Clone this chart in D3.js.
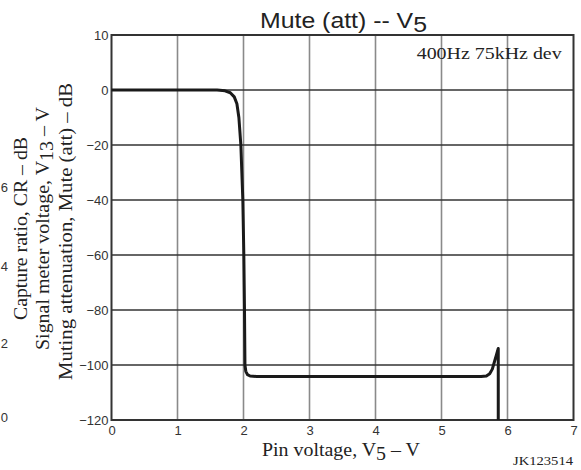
<!DOCTYPE html>
<html><head><meta charset="utf-8">
<script src="https://cdn.jsdelivr.net/npm/d3@7"></script>
<style>body{margin:0;background:#fff}svg{display:block}</style>
</head><body>
<script>
const xTicks = [0,1,2,3,4,5,6,7];
const yTicks = [10,0,-20,-40,-60,-80,-100,-120];
const cutTicks = ["6","4","2","0"];
const cutTickY = [-35.6,-64.2,-92.2,-118.9];
const curveV  = [0,1.6,1.72,1.8,1.86,1.9,1.93,1.96,1.99,2.005,2.015,2.022,2.035,2.06,2.1,2.2,3,4,5,5.6,5.68,5.73,5.77,5.8,5.83,5.86,5.86];
const curveDb = [0,0,-0.3,-1,-2.5,-5,-10,-20,-40,-60,-80,-100,-102.3,-103.5,-104,-104.2,-104.2,-104.2,-104.2,-104.2,-104,-103.2,-101.5,-99,-96.5,-94,-120];

const W=581,H=470;
const SANS="Liberation Sans, Arial, sans-serif", SERIF="Liberation Serif, Times New Roman, serif";
const svg=d3.select("body").append("svg").attr("width",W).attr("height",H);
const x=d3.scaleLinear().domain([0,7]).range([111.5,573.5]);
// top interval (0..10) is drawn as tall as the 20 dB intervals, as in the original
const y=d3.scaleLinear().domain([-120,0,10]).range([420,90,35]);

// grid
svg.append("g").selectAll("line").data(xTicks.slice(1,-1)).join("line")
 .attr("x1",d=>x(d)).attr("x2",d=>x(d)).attr("y1",y(10)).attr("y2",y(-120))
 .attr("stroke","#8a8a8a").attr("stroke-width",1.6);
svg.append("g").selectAll("line").data(yTicks.slice(1,-1)).join("line")
 .attr("x1",x(0)).attr("x2",x(7)).attr("y1",d=>y(d)).attr("y2",d=>y(d))
 .attr("stroke","#333").attr("stroke-width",1.6);
// frame
svg.append("rect").attr("x",x(0)).attr("y",y(10)).attr("width",x(7)-x(0)).attr("height",y(-120)-y(10))
 .attr("fill","none").attr("stroke","#333").attr("stroke-width",2);

// axes tick labels
const xa=d3.axisBottom(x).tickValues(xTicks).tickSize(0).tickPadding(0).tickFormat(d3.format("d"));
const gx=svg.append("g").attr("transform",`translate(0,${y(-120)})`).call(xa);
gx.select(".domain").remove();
gx.selectAll("text").attr("dy",null).attr("y",15).attr("font-family",SANS).attr("font-size",13).attr("fill","#333");

const ya=d3.axisLeft(y).tickValues(yTicks).tickSize(0).tickPadding(0).tickFormat(d=>d<0?"\u2212"+(-d):d);
const gy=svg.append("g").attr("transform",`translate(${x(0)-3},0)`).call(ya);
gy.select(".domain").remove();
gy.selectAll("text").attr("dy","0.35em").attr("font-family",SANS).attr("font-size",13).attr("fill","#333");

// cut-off ticks at left
svg.append("g").selectAll("text").data(cutTicks).join("text")
 .attr("x",8).attr("y",(d,i)=>y(cutTickY[i])).attr("dy","0.35em").attr("text-anchor","end")
 .attr("font-family",SANS).attr("font-size",13).attr("fill","#333").text(d=>d);

// curve
const pts=curveV.map((v,i)=>[v,curveDb[i]]);
svg.append("path").datum(pts)
 .attr("d",d3.line().x(d=>x(d[0])).y(d=>y(d[1])).curve(d3.curveLinear))
 .attr("fill","none").attr("stroke","#1a1a1a").attr("stroke-width",3).attr("stroke-linejoin","round");

// title
const t=svg.append("text").attr("x",260).attr("y",27.5)
 .attr("font-family",SANS).attr("font-size",22).attr("fill","#222")
 .attr("textLength",167).attr("lengthAdjust","spacingAndGlyphs");
t.append("tspan").text("Mute (att) -- V");
t.append("tspan").attr("dy",4).text("5");

svg.append("text").attr("x",416.7).attr("y",58.5)
 .attr("font-family",SERIF).attr("font-size",17).attr("fill","#222")
 .attr("textLength",145).attr("lengthAdjust","spacingAndGlyphs").text("400Hz 75kHz dev");

// x title
const xt=svg.append("text").attr("x",262).attr("y",456)
 .attr("font-family",SERIF).attr("font-size",18).attr("fill","#222")
 .attr("textLength",158).attr("lengthAdjust","spacingAndGlyphs");
xt.append("tspan").text("Pin voltage, V");
xt.append("tspan").attr("dy",4).text("5");
xt.append("tspan").attr("dy",-4).text(" \u2013 V");

svg.append("text").attr("x",513).attr("y",465)
 .attr("font-family",SERIF).attr("font-size",12.5).attr("fill","#222")
 .attr("textLength",60).attr("lengthAdjust","spacingAndGlyphs").text("JK123514");

// y titles
const yl=[{x:27,y0:320,len:183,parts:[["Capture ratio, CR \u2013 dB",0]]},
          {x:48.5,y0:350,len:243,parts:[["Signal meter voltage, V",0],["13",4],[" \u2013 V",-4]]},
          {x:72,y0:380,len:297,parts:[["Muting attenuation, Mute (att) \u2013 dB",0]]}];
yl.forEach(l=>{
  const tx=svg.append("text").attr("transform",`translate(${l.x},${l.y0}) rotate(-90)`)
   .attr("font-family",SERIF).attr("font-size",18).attr("fill","#222")
   .attr("textLength",l.len).attr("lengthAdjust","spacingAndGlyphs");
  l.parts.forEach(p=>tx.append("tspan").attr("dy",p[1]).text(p[0]));
});
</script>
</body></html>
